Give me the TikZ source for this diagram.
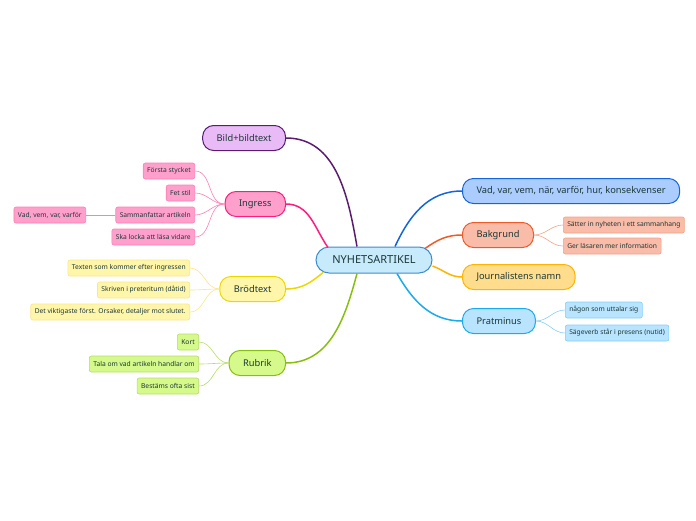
\documentclass[tikz,border=0pt]{standalone}
\usepackage{fontspec}
\setmainfont{Noto Sans}
\usetikzlibrary{positioning}

\definecolor{txt}{HTML}{1C3838}
\definecolor{cfill}{HTML}{C8EBFC}\definecolor{cdraw}{HTML}{3C8CD0}
\definecolor{pufill}{HTML}{E9BBF6}\definecolor{pudraw}{HTML}{5A1C70}
\definecolor{pkfill}{HTML}{FFA0CC}\definecolor{pkdraw}{HTML}{FF1C7C}\definecolor{pksub}{HTML}{FF80B8}
\definecolor{yefill}{HTML}{FFF6AA}\definecolor{yedraw}{HTML}{EED600}\definecolor{yesub}{HTML}{FAE68A}
\definecolor{grfill}{HTML}{D6F98C}\definecolor{grdraw}{HTML}{88BE0E}\definecolor{grsub}{HTML}{B4DE66}
\definecolor{blfill}{HTML}{AACCFF}\definecolor{bldraw}{HTML}{1465DC}
\definecolor{orfill}{HTML}{F9BCA8}\definecolor{ordraw}{HTML}{F05A28}\definecolor{orsub}{HTML}{F5A286}
\definecolor{jofill}{HTML}{FFDD8C}\definecolor{jodraw}{HTML}{FFB400}
\definecolor{prfill}{HTML}{B8E4FF}\definecolor{prdraw}{HTML}{1AAAF0}\definecolor{prsub}{HTML}{86CEF5}

\begin{document}
\begin{tikzpicture}[
  x=1pt, y=1pt,
  every node/.style={text=txt},
  topic/.style={rectangle, rounded corners=11pt, line width=1pt, minimum height=25pt,
                inner xsep=14pt, font=\fontsize{9.3}{11}\selectfont},
  center/.style={rectangle, rounded corners=13pt, line width=1pt, draw=cdraw, fill=cfill,
                 minimum width=116pt, minimum height=26pt, font=\fontsize{11}{13}\selectfont},
  leaf/.style={rectangle, rounded corners=2pt, line width=0.6pt, minimum height=16pt,
               inner xsep=4pt, font=\fontsize{6.7}{8}\selectfont},
  branch/.style={line width=1.5pt},
  twig/.style={line width=0.6pt}
]
\useasboundingbox (0,0) rectangle (696,-520);

% center
\node[center] (c) at (374,-260) {NYHETSARTIKEL};

% left topics
\node[topic, draw=pudraw, fill=pufill, anchor=east] (bild) at (286,-138) {Bild+bildtext};
\node[topic, draw=pkdraw, fill=pkfill, anchor=east] (ingress) at (286,-204) {Ingress};
\node[topic, draw=yedraw, fill=yefill, anchor=east] (brod) at (286,-289) {Brödtext};
\node[topic, draw=grdraw, fill=grfill, anchor=east] (rubrik) at (286,-363) {Rubrik};

% right topics
\node[topic, draw=bldraw, fill=blfill, anchor=west] (vad) at (462,-191) {Vad, var, vem, när, varför, hur, konsekvenser};
\node[topic, draw=ordraw, fill=orfill, anchor=west] (bakgrund) at (462,-235) {Bakgrund};
\node[topic, draw=jodraw, fill=jofill, anchor=west] (journ) at (462,-277) {Journalistens namn};
\node[topic, draw=prdraw, fill=prfill, anchor=west] (prat) at (462,-321) {Pratminus};

% ingress leaves
\node[leaf, draw=pksub, fill=pkfill, anchor=east] (forsta) at (195,-171) {Första stycket};
\node[leaf, draw=pksub, fill=pkfill, anchor=east] (fet) at (195,-193) {Fet stil};
\node[leaf, draw=pksub, fill=pkfill, anchor=east] (samman) at (195,-215) {Sammanfattar artikeln};
\node[leaf, draw=pksub, fill=pkfill, anchor=east] (locka) at (195,-237) {Ska locka att läsa vidare};
\node[leaf, draw=pksub, fill=pkfill, anchor=east] (vvv) at (86,-215) {Vad, vem, var, varför};

% brodtext leaves
\node[leaf, draw=yesub, fill=yefill, anchor=east] (texten) at (190,-268) {Texten som kommer efter ingressen};
\node[leaf, draw=yesub, fill=yefill, anchor=east] (skriven) at (190,-290) {Skriven i preteritum (dåtid)};
\node[leaf, draw=yesub, fill=yefill, anchor=east] (viktig) at (190,-312) {Det viktigaste först. Orsaker, detaljer mot slutet.};

% rubrik leaves
\node[leaf, draw=grsub, fill=grfill, anchor=east] (kort) at (199,-342) {Kort};
\node[leaf, draw=grsub, fill=grfill, anchor=east] (tala) at (199,-364) {Tala om vad artikeln handlar om};
\node[leaf, draw=grsub, fill=grfill, anchor=east] (sist) at (199,-386) {Bestäms ofta sist};

% bakgrund leaves
\node[leaf, draw=orsub, fill=orfill, anchor=west] (satter) at (563,-225) {Sätter in nyheten i ett sammanhang};
\node[leaf, draw=orsub, fill=orfill, anchor=west] (ger) at (563,-246) {Ger läsaren mer information};

% pratminus leaves
\node[leaf, draw=prsub, fill=prfill, anchor=west] (nagon) at (565,-310) {någon som uttalar sig};
\node[leaf, draw=prsub, fill=prfill, anchor=west] (sage) at (565,-333) {Sägeverb står i presens (nutid)};

% branches
\draw[branch, pudraw] (bild.east) to[out=0, in=100] ([xshift=-17pt]c.north);
\draw[branch, pkdraw] (ingress.east) to[out=0, in=125] ([xshift=-46pt,yshift=-1pt]c.north);
\draw[branch, yedraw] (brod.east) to[out=0, in=-140] ([xshift=-51pt,yshift=1pt]c.south);
\draw[branch, grdraw] (rubrik.east) to[out=0, in=-105] ([xshift=-17pt]c.south);
\draw[branch, bldraw] ([xshift=21pt]c.north) to[out=65, in=180] (vad.west);
\draw[branch, ordraw] ([xshift=51pt,yshift=-2pt]c.north) to[out=35, in=180] (bakgrund.west);
\draw[branch, jodraw] ([yshift=-6pt]c.east) to[out=-20, in=180] (journ.west);
\draw[branch, prdraw] ([xshift=23pt]c.south) to[out=-60, in=180] (prat.west);

% twigs
\foreach \n in {forsta,fet,samman,locka}
  \draw[twig, pksub] (ingress.west) to[out=180, in=0] (\n.east);
\draw[twig, pksub] (samman.west) -- (vvv.east);
\foreach \n in {texten,skriven,viktig}
  \draw[twig, yesub] (brod.west) to[out=180, in=0] (\n.east);
\foreach \n in {kort,tala,sist}
  \draw[twig, grsub] (rubrik.west) to[out=180, in=0] (\n.east);
\foreach \n in {satter,ger}
  \draw[twig, orsub] (bakgrund.east) to[out=0, in=180] (\n.west);
\foreach \n in {nagon,sage}
  \draw[twig, prsub] (prat.east) to[out=0, in=180] (\n.west);
\end{tikzpicture}
\end{document}
